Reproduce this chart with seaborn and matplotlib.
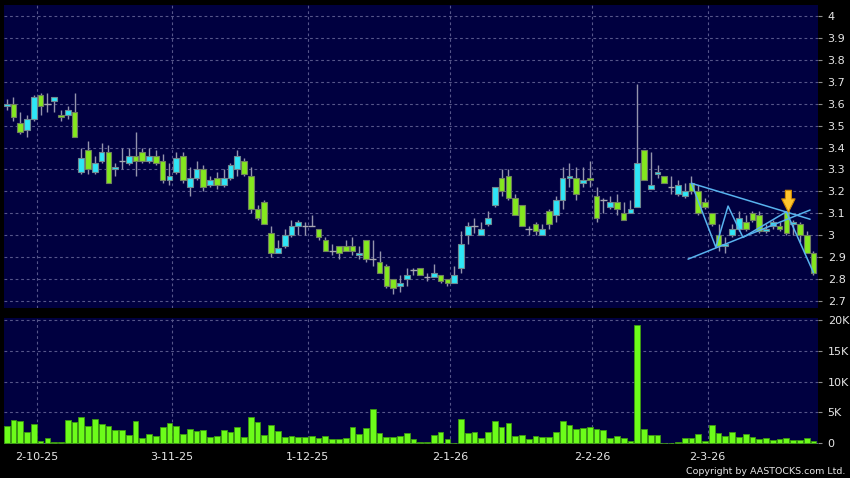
import numpy as np
import pandas as pd
import seaborn as sns
import matplotlib.pyplot as plt
from matplotlib.ticker import FixedLocator, FuncFormatter

# daily OHLC (one entry per trading day, oldest first)
opens = [3.59, 3.60, 3.51, 3.48, 3.53, 3.64, 3.60, 3.61, 3.55, 3.55,
         3.56, 3.29, 3.39, 3.29, 3.34, 3.38, 3.30, 3.34, 3.33, 3.36,
         3.38, 3.34, 3.36, 3.34, 3.25, 3.29, 3.36, 3.22, 3.26, 3.30,
         3.23, 3.26, 3.23, 3.26, 3.30, 3.34, 3.27, 3.12, 3.15, 3.01,
         2.92, 2.95, 3.00, 3.04, 3.04, 3.04, 3.03, 2.98, 2.93, 2.95,
         2.95, 2.95, 2.91, 2.98, 2.89, 2.88, 2.86, 2.80, 2.77, 2.80,
         2.84, 2.85, 2.81, 2.81, 2.82, 2.80, 2.78, 2.85, 3.00, 3.04,
         3.00, 3.05, 3.14, 3.26, 3.27, 3.17, 3.14, 3.03, 3.05, 3.00,
         3.11, 3.09, 3.16, 3.26, 3.26, 3.24, 3.26, 3.18, 3.16, 3.13,
         3.15, 3.10, 3.10, 3.13, 3.39, 3.21, 3.28, 3.27, 3.22, 3.19,
         3.18, 3.24, 3.20, 3.15, 3.10, 3.00, 2.95, 3.00, 3.03, 3.06,
         3.10, 3.09, 3.02, 3.04, 3.04, 3.11, 3.05, 3.05, 3.00, 2.92]
highs = [3.62, 3.63, 3.56, 3.55, 3.64, 3.65, 3.65, 3.63, 3.57, 3.59,
         3.65, 3.40, 3.43, 3.36, 3.42, 3.41, 3.33, 3.40, 3.40, 3.47,
         3.40, 3.40, 3.39, 3.37, 3.33, 3.38, 3.38, 3.31, 3.34, 3.32,
         3.27, 3.29, 3.30, 3.33, 3.39, 3.35, 3.31, 3.14, 3.16, 3.04,
         2.98, 3.03, 3.07, 3.07, 3.06, 3.09, 3.03, 2.99, 2.96, 2.95,
         2.98, 2.99, 2.95, 2.98, 2.98, 2.93, 2.87, 2.80, 2.82, 2.85,
         2.85, 2.85, 2.83, 2.87, 2.82, 2.80, 2.86, 3.02, 3.06, 3.08,
         3.06, 3.11, 3.22, 3.30, 3.30, 3.19, 3.14, 3.04, 3.06, 3.05,
         3.12, 3.18, 3.31, 3.33, 3.31, 3.31, 3.34, 3.22, 3.17, 3.18,
         3.19, 3.15, 3.16, 3.69, 3.39, 3.38, 3.32, 3.27, 3.27, 3.25,
         3.24, 3.27, 3.23, 3.17, 3.10, 3.05, 2.99, 3.05, 3.11, 3.09,
         3.11, 3.11, 3.05, 3.07, 3.06, 3.11, 3.07, 3.06, 3.02, 2.93]
lows = [3.57, 3.52, 3.46, 3.45, 3.52, 3.55, 3.56, 3.56, 3.52, 3.53,
        3.45, 3.28, 3.28, 3.28, 3.33, 3.24, 3.27, 3.30, 3.32, 3.27,
        3.33, 3.33, 3.32, 3.24, 3.23, 3.28, 3.24, 3.18, 3.25, 3.20,
        3.22, 3.21, 3.22, 3.25, 3.27, 3.27, 3.10, 3.07, 3.05, 2.90,
        2.92, 2.94, 2.99, 3.00, 3.00, 3.04, 2.98, 2.93, 2.91, 2.89,
        2.93, 2.91, 2.89, 2.88, 2.86, 2.83, 2.76, 2.73, 2.74, 2.77,
        2.82, 2.82, 2.79, 2.81, 2.78, 2.77, 2.78, 2.83, 2.96, 3.01,
        3.00, 3.04, 3.13, 3.18, 3.16, 3.09, 3.04, 3.00, 3.00, 3.00,
        3.03, 3.06, 3.12, 3.22, 3.16, 3.22, 3.22, 3.06, 3.10, 3.12,
        3.09, 3.07, 3.10, 3.13, 3.25, 3.21, 3.26, 3.24, 3.19, 3.18,
        3.17, 3.19, 3.09, 3.12, 3.04, 2.93, 2.92, 2.99, 3.02, 3.02,
        3.06, 3.01, 3.01, 3.03, 3.02, 3.00, 3.00, 2.97, 2.92, 2.82]
closes = [3.60, 3.54, 3.47, 3.53, 3.63, 3.59, 3.60, 3.63, 3.54, 3.57,
          3.45, 3.35, 3.30, 3.33, 3.38, 3.24, 3.31, 3.34, 3.36, 3.34,
          3.34, 3.36, 3.33, 3.25, 3.27, 3.35, 3.25, 3.26, 3.30, 3.22,
          3.25, 3.23, 3.26, 3.32, 3.36, 3.28, 3.12, 3.08, 3.05, 2.92,
          2.94, 3.00, 3.04, 3.06, 3.04, 3.04, 2.99, 2.93, 2.93, 2.92,
          2.93, 2.93, 2.92, 2.89, 2.89, 2.83, 2.77, 2.76, 2.78, 2.82,
          2.84, 2.82, 2.81, 2.83, 2.79, 2.78, 2.82, 2.96, 3.04, 3.04,
          3.03, 3.08, 3.22, 3.20, 3.17, 3.09, 3.04, 3.03, 3.02, 3.03,
          3.05, 3.16, 3.26, 3.27, 3.19, 3.25, 3.25, 3.08, 3.16, 3.15,
          3.12, 3.07, 3.12, 3.33, 3.25, 3.23, 3.29, 3.24, 3.22, 3.23,
          3.20, 3.20, 3.10, 3.13, 3.05, 2.95, 2.96, 3.03, 3.08, 3.03,
          3.07, 3.02, 3.03, 3.06, 3.03, 3.01, 3.06, 3.00, 2.92, 2.83]
# volume in thousands of shares
volume_k = [2.86, 3.78, 3.62, 1.84, 3.08, 0.38, 0.81, 0.16, 0.27, 3.73,
            3.46, 4.32, 2.76, 4.00, 3.14, 2.81, 2.16, 2.16, 1.35, 3.57,
            0.86, 1.57, 1.19, 2.70, 3.35, 2.76, 1.51, 2.32, 2.05, 2.16,
            0.97, 1.14, 2.11, 1.84, 2.65, 0.97, 4.22, 3.51, 1.35, 2.92,
            2.00, 1.03, 1.19, 1.03, 1.08, 1.14, 0.86, 1.19, 0.76, 0.76,
            0.81, 2.65, 1.51, 2.43, 5.51, 1.62, 1.03, 0.97, 1.24, 1.62,
            0.65, 0.27, 0.16, 1.30, 1.78, 0.65, 0.05, 3.95, 1.62, 1.89,
            0.81, 1.78, 3.68, 2.70, 3.30, 1.24, 1.30, 0.76, 1.14, 0.97,
            1.03, 1.84, 3.57, 2.97, 2.32, 2.43, 2.59, 2.27, 2.16, 0.92,
            1.24, 0.81, 0.38, 19.19, 2.32, 1.41, 1.35, 0.10, 0.10, 0.15,
            0.86, 0.86, 1.46, 0.38, 2.97, 1.68, 1.14, 1.78, 0.97, 1.46,
            1.03, 0.76, 0.86, 0.54, 0.76, 0.81, 0.54, 0.54, 0.81, 0.43]

# first trading day of each month shown on the axis (index into the arrays)
month_idx = [4, 24, 44, 65, 86, 103]
month_labels = ["2-10-25", "3-11-25", "1-12-25", "2-1-26", "2-2-26", "2-3-26"]
price_ticks = [2.7, 2.8, 2.9, 3.0, 3.1, 3.2, 3.3, 3.4, 3.5, 3.6, 3.7, 3.8, 3.9, 4.0]
vol_ticks = [0, 5, 10, 15, 20]

# hand drawn trend lines (day index, price)
upper_k, upper_p = [101.0, 118.5], [3.237, 3.073]
lower_k, lower_p = [100.5, 118.5], [2.891, 3.115]
zigzag_k = [101.0, 104.6, 106.4, 108.6, 115.0, 119.0]
zigzag_p = [3.237, 2.945, 3.133, 2.99, 3.107, 2.829]
arrow_day = 115

NAVY = "#000040"
UP = "#2EE6F6"
DOWN = "#84E81E"
GRID = "#56568a"
TXT = "#e6e6e6"

sns.set_theme(style="dark", rc={
    "figure.facecolor": "black",
    "axes.facecolor": NAVY,
    "savefig.facecolor": "black",
})
plt.rcParams["font.family"] = ["DejaVu Sans"]

df = pd.DataFrame({"o": opens, "h": highs, "l": lows, "c": closes, "vol": volume_k})
df["k"] = np.arange(len(df))

fig = plt.figure(figsize=(8.5, 4.78), dpi=100)
ax = fig.add_axes([0.0047, 0.3556, 0.9576, 0.6339])
axv = fig.add_axes([0.0047, 0.0711, 0.9576, 0.2636])

# wicks
ax.vlines(df["k"], df["l"], df["h"], color="#9494ac", linewidth=1, zorder=2)

up = df[df["c"] > df["o"]]
dn = df[df["c"] < df["o"]]
flat = df[df["c"] == df["o"]]
ax.bar(up["k"], up["c"] - up["o"], bottom=up["o"], width=0.84,
       color=UP, edgecolor="#6f8890", linewidth=0.8, zorder=3)
ax.bar(dn["k"], dn["o"] - dn["c"], bottom=dn["c"], width=0.84,
       color=DOWN, edgecolor="#6f7f60", linewidth=0.8, zorder=3)
ax.hlines(flat["o"], flat["k"] - 0.5, flat["k"] + 0.5, color="#a8a8b0",
          linewidth=1, zorder=3)

line_kw = dict(color="#58b2ee", linewidth=1.1, zorder=4)
ax.plot(upper_k, upper_p, **line_kw)
ax.plot(lower_k, lower_p, **line_kw)
ax.plot(zigzag_k, zigzag_p, **line_kw)

tip = highs[arrow_day]
ax.annotate("", xy=(arrow_day + 0.3, tip - 0.005), xytext=(arrow_day + 0.3, tip + 0.095),
            arrowprops=dict(arrowstyle="simple,head_length=0.8,head_width=0.8,tail_width=0.36",
                            fc="#FFC62E", ec="#D08A00", lw=0.8, shrinkA=0, shrinkB=0),
            zorder=6)

# volume
sns.barplot(data=df, x="k", y="vol", native_scale=True, color="#6CFC1A",
            saturation=1, width=0.85, edgecolor="#3C9A10", linewidth=0.6,
            errorbar=None, ax=axv, zorder=3)

xlim = (-0.4, 119.66)
for a in (ax, axv):
    a.set_xlim(*xlim)
    a.set_xlabel("")
    a.set_ylabel("")
    for s in a.spines.values():
        s.set_visible(False)
    a.yaxis.tick_right()
    a.xaxis.set_major_locator(FixedLocator([m + 0.4 for m in month_idx]))
    a.grid(True, color=GRID, linestyle=(0, (2.5, 2.5)), linewidth=0.8, zorder=0)
    a.set_axisbelow(True)
    a.tick_params(axis="both", colors="#8c8c8c", labelcolor=TXT, labelsize=8,
                  length=3, width=0.8, pad=4, direction="out")

ax.set_ylim(2.668, 4.05)
ax.yaxis.set_major_locator(FixedLocator(price_ticks))
ax.yaxis.set_major_formatter(FuncFormatter(lambda v, p: f"{v:g}"))
ax.tick_params(axis="x", labelbottom=False, length=0)

axv.set_ylim(-0.11, 20.32)
axv.yaxis.set_major_locator(FixedLocator(vol_ticks))
axv.yaxis.set_major_formatter(FuncFormatter(lambda v, p: "0" if v == 0 else f"{v:g}K"))
axv.set_xticklabels(month_labels)
axv.tick_params(axis="x", pad=3)

fig.text(0.995, 0.013, "Copyright by AASTOCKS.com Ltd.", color=TXT,
         fontsize=6.8, ha="right", va="center")

fig.savefig("out.png", dpi=100)
